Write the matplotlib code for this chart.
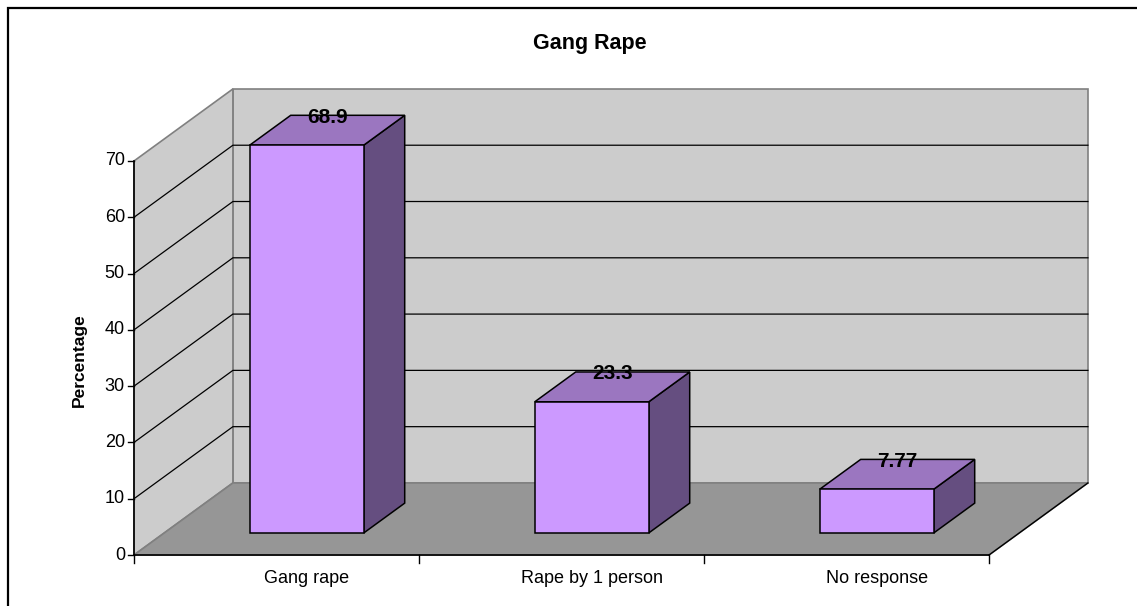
import matplotlib.pyplot as plt
from matplotlib.patches import Polygon, Rectangle

plt.rcParams['font.family'] = ['Liberation Sans', 'DejaVu Sans']

categories = ["Gang rape", "Rape by 1 person", "No response"]
values = [68.9, 23.3, 7.77]
value_labels = ["68.9", "23.3", "7.77"]
y_ticks = [0, 10, 20, 30, 40, 50, 60, 70]
title = "Gang Rape"
y_label = "Percentage"

# oblique projection: a step of one full depth unit moves right and up
DX = 0.347   # in category units
DY = 12.8    # in value units
VMAX = 70

# bar footprint inside each category slot
BAR_L, BAR_R = 0.30, 0.70
Z0, Z1 = 0.306, 0.72

WALL = "#cccccc"
FLOOR = "#969696"
EDGE = "#808080"
FRONT = "#cc99ff"
TOP = "#9b76c0"
SIDE = "#654e80"


def p(c, v, z):
    return (c + z * DX, v + z * DY)


fig = plt.figure(figsize=(11.37, 6.06), dpi=100)
ax = fig.add_axes([0, 0, 1, 1])
ax.set_xlim(-0.4702, 3.5193)
ax.set_ylim(-9.06, 98.6)
ax.axis("off")

n = len(categories)

# back wall, side wall and floor
ax.add_patch(Polygon([p(0, 0, 1), p(n, 0, 1), p(n, VMAX, 1), p(0, VMAX, 1)],
                     closed=True, fc=WALL, ec=EDGE, lw=1.2, zorder=1))
ax.add_patch(Polygon([p(0, 0, 0), p(0, 0, 1), p(0, VMAX, 1), p(0, VMAX, 0)],
                     closed=True, fc=WALL, ec=EDGE, lw=1.2, zorder=1))

# gridlines across both walls
for t in y_ticks[1:-1]:
    xs, ys = zip(p(0, t, 0), p(0, t, 1), p(n, t, 1))
    ax.plot(xs, ys, color="black", lw=0.9, zorder=2)

ax.add_patch(Polygon([p(0, 0, 0), p(n, 0, 0), p(n, 0, 1), p(0, 0, 1)],
                     closed=True, fc=FLOOR, ec=EDGE, lw=1.2, zorder=3))
xs, ys = zip(p(n, 0, 0), p(n, 0, 1))
ax.plot(xs, ys, color="black", lw=1, zorder=4)

# front axis lines
ax.plot([0, 0], [0, VMAX], color="black", lw=1.2, zorder=4)
ax.plot([0, n], [0, 0], color="black", lw=1.2, zorder=4)

for t in y_ticks:
    ax.plot([-0.021, 0], [t, t], color="black", lw=1, zorder=4)
    ax.text(-0.032, t, str(t), ha="right", va="center", fontsize=13)

for i in range(n + 1):
    ax.plot([i, i], [0, -1.45], color="black", lw=1, zorder=4)

# 3d bars
for i, v in enumerate(values):
    l, r = i + BAR_L, i + BAR_R
    front = [p(l, 0, Z0), p(r, 0, Z0), p(r, v, Z0), p(l, v, Z0)]
    top = [p(l, v, Z0), p(r, v, Z0), p(r, v, Z1), p(l, v, Z1)]
    side = [p(r, 0, Z0), p(r, 0, Z1), p(r, v, Z1), p(r, v, Z0)]
    for pts, col in [(side, SIDE), (top, TOP), (front, FRONT)]:
        ax.add_patch(Polygon(pts, closed=True, fc=col, ec="black", lw=1.1,
                             joinstyle="miter", zorder=5))
    lx, ly = p(i + 0.5, v, (Z0 + Z1) / 2)
    ax.text(lx, ly + 2.3, value_labels[i], ha="center", va="center",
            fontsize=15, fontweight="bold", zorder=6)
    cx, _ = p(i + 0.5, 0, Z0)
    ax.text(cx, -2.6, categories[i], ha="center", va="top", fontsize=13)

ax.text(1.5 + 0.1, 90.8, title, ha="center", va="center",
        fontsize=15.5, fontweight="bold")
ax.text(-0.19, 34.6, y_label, ha="center", va="center", rotation=90,
        fontsize=12.5, fontweight="bold")

# chart area border (open to the right and bottom)
fig.add_artist(Rectangle((8 / 1137, -0.1), 1.1, 1.1 - 8 / 606,
                         transform=fig.transFigure, fill=False,
                         ec="black", lw=1.6))

fig.savefig("out.png", dpi=100)
